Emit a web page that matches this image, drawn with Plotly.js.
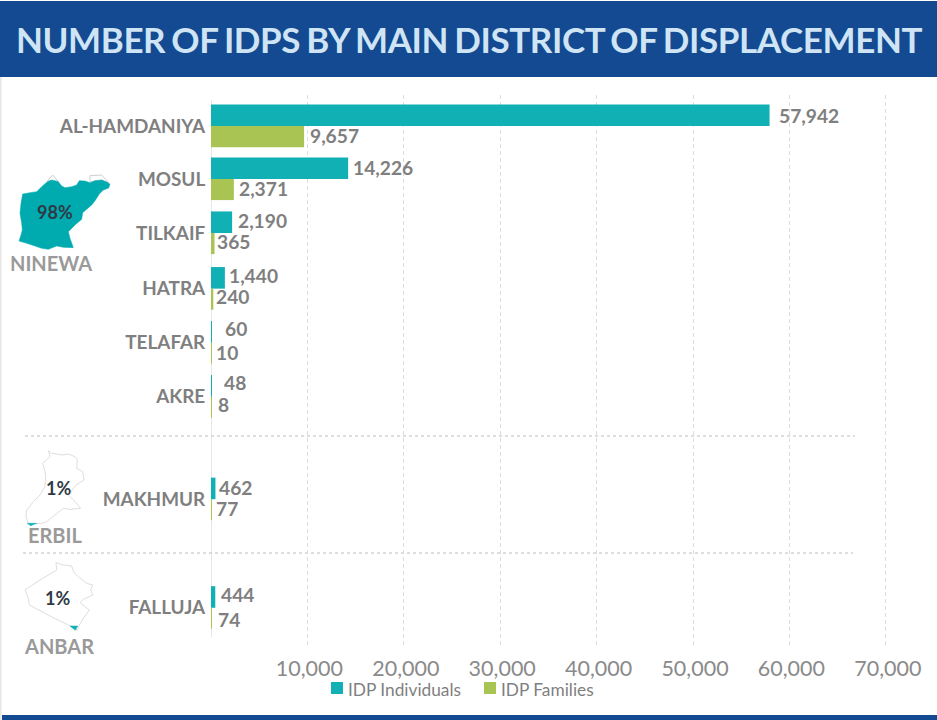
<!DOCTYPE html>
<html>
<head>
<meta charset="utf-8">
<script src="https://cdn.plot.ly/plotly-3.0.1.min.js"></script>
<style>html,body{margin:0;padding:0;background:#fff}#chart{width:937px;height:720px}</style>
</head>
<body>
<div id="chart"></div>
<script>
const districts = ["AL-HAMDANIYA","MOSUL","TILKAIF","HATRA","TELAFAR","AKRE","MAKHMUR","FALLUJA"];
const rowPositions = [0.02,1,2,3.03,4.03,5.03,6.93,8.94];
const individuals = [57942,14226,2190,1440,60,48,462,444];
const families = [9657,2371,365,240,10,8,77,74];
const tickValues = [10000,20000,30000,40000,50000,60000,70000];
const regions = [["NINEWA","98%"],["ERBIL","1%"],["ANBAR","1%"]];
const seriesNames = ["IDP Individuals","IDP Families"];
const seriesColors = ["#11b0b4","#a9c453"];
const labelShiftX1 = [9,5,6,4,13,13,3.5,6];
const labelShiftX2 = [6,5,2,3,5,7,4,6];
const labelShiftY1 = [0,-1,-2,-2,-3,-3,-1,-2];
const labelShiftY2 = [-1,-1,-2,-3,-1,-3,-2,1];

const W=937,H=720;
const px=x=>x/W, py=y=>1-y/H;
const fmt=v=>v.toLocaleString("en-US");
const path=(pts,ox,oy,s)=>"M"+pts.map(p=>px(ox+p[0]/s)+","+py(oy+p[1]/s)).join("L")+"Z";

const ninewa=[[27,213],[33,195],[37,180],[35,160],[30,130],[33,100],[38,72],[60,68],[80,65],[95,50],[112,35],[125,30],[135,32],[145,35],[155,48],[165,53],[185,50],[200,45],[208,32],[225,33],[240,38],[255,32],[275,30],[290,36],[300,43],[296,54],[280,60],[268,72],[255,92],[245,105],[225,122],[218,128],[215,148],[195,165],[175,185],[180,205],[190,233],[160,232],[140,228],[115,238],[95,235],[75,228],[50,220]];
const ninewaGrey1=[[112,33],[128,15],[146,36]];
const ninewaGrey2=[[240,36],[240,17],[275,15],[298,40],[275,30]];
const erbil=[[145,62],[155,70],[170,72],[185,75],[205,72],[225,80],[232,90],[230,115],[248,125],[252,150],[228,165],[205,195],[225,215],[242,235],[210,238],[190,235],[165,255],[140,275],[125,280],[85,282],[78,260],[80,240],[100,215],[120,195],[135,170],[137,140],[135,125],[128,100],[150,80]];
const erbilTeal=[[82,280],[110,280],[92,287]];
const anbar=[[168,398],[190,405],[215,408],[222,428],[235,440],[260,460],[278,465],[272,480],[278,495],[250,508],[240,518],[268,540],[250,565],[238,585],[232,600],[215,590],[150,558],[88,525],[85,505],[75,480],[120,450],[170,420]];
const anbarTeal=[[210,588],[233,588],[226,601]];

function region(d,fill,line,w){return {type:"path",xref:"paper",yref:"paper",path:d,fillcolor:fill,line:{color:line,width:w},layer:"above"};}
function rect(x0,y0,x1,y1,c){return {type:"rect",xref:"paper",yref:"paper",x0:px(x0),x1:px(x1),y0:py(y0),y1:py(y1),fillcolor:c,line:{width:0},layer:"below"};}
function dash(x0,x1,y){return {type:"line",xref:"paper",yref:"paper",x0:px(x0),x1:px(x1),y0:py(y),y1:py(y),line:{color:"#bdbdbd",width:1.2,dash:"3px,3px"},layer:"below"};}
function note(t,x,y,size,color,bold,anchor){return {text:bold?"<b>"+t+"</b>":t,xref:"paper",yref:"paper",x:px(x),y:py(y),xanchor:anchor||"center",yanchor:"middle",showarrow:false,font:{family:"Lato",size:size,color:color}};}
function valueLabel(v,row,dx,dy){return {text:"<b>"+fmt(v)+"</b>",xref:"x",yref:"y",x:v,y:row,xanchor:"left",yanchor:"middle",xshift:dx,yshift:-dy,showarrow:false,borderpad:0,borderwidth:0,font:{family:"Lato",size:19.2,color:"#7f7f7f"}};}

const traces=[
 {type:"bar",orientation:"h",name:seriesNames[0],y:rowPositions,x:individuals,width:0.4,offset:-0.4,
  marker:{color:seriesColors[0]},hoverinfo:"x+name"},
 {type:"bar",orientation:"h",name:seriesNames[1],y:rowPositions,x:families,width:0.39,offset:0,
  marker:{color:seriesColors[1]},hoverinfo:"x+name"}
];

const valueLabels=[
 ...individuals.map((v,i)=>valueLabel(v,rowPositions[i]-0.2,labelShiftX1[i],labelShiftY1[i])),
 ...families.map((v,i)=>valueLabel(v,rowPositions[i]+0.2,labelShiftX2[i],labelShiftY2[i]))
];

const layout={
 width:W,height:H,margin:{l:0,r:0,t:0,b:0,pad:0},paper_bgcolor:"#fff",plot_bgcolor:"rgba(0,0,0,0)",
 barmode:"overlay",showlegend:false,
 title:{text:"<b>NUMBER OF IDPS BY MAIN DISTRICT OF DISPLACEMENT</b>",x:469/W,xanchor:"center",xref:"paper",y:py(41),yref:"paper",yanchor:"middle",font:{family:"Lato",size:35,color:"#cfe4f4"},pad:{t:0,b:0,l:0,r:0}},
 xaxis:{domain:[px(211),px(900)],range:[0,(900-211)/0.00964],tickvals:tickValues,ticktext:tickValues.map(fmt),ticklabelshift:2,
  tickfont:{family:"Lato",size:21.5,color:"#8a8a8a"},showgrid:true,gridcolor:"#dcdcdc",griddash:"4px,3px",gridwidth:1,zeroline:false,ticks:"outside",ticklen:3,tickcolor:"rgba(0,0,0,0)",anchor:"y",showline:false},
 yaxis:{domain:[py(646),py(95)],range:[9.648,-0.556],tickvals:rowPositions,ticktext:districts,tickfont:{family:"Lato",size:18.9,color:"#7f7f7f",weight:700},showgrid:false,zeroline:false,ticks:"outside",ticklen:1,tickcolor:"rgba(0,0,0,0)",showline:false,anchor:"x"},
 shapes:[
  rect(0,1,W,77,"#134a91"),
  rect(2,715,W,720,"#134a91"),
  rect(0,77,1.5,720,"#e6e6e6"),
  {type:"line",xref:"x",yref:"paper",x0:0,x1:0,y0:py(100),y1:py(637),line:{color:"#cfcfcf",width:1},layer:"below"},
  dash(25,855,436),dash(23,853,553),
  rect(331,682,343,694,seriesColors[0]),
  rect(484,682,496,694,seriesColors[1]),
  region(path(ninewaGrey1,10,170,3),"#fff","#cfcfcf",1),
  region(path(ninewaGrey2,10,170,3),"#fff","#cfcfcf",1),
  region(path(ninewa,10,170,3),"#00abb0","#00abb0",0.5),
  region(path(erbil,0,430,3),"#fff","#dedede",1),
  region(path(erbilTeal,0,430,3),"#11b0b4","#11b0b4",0.5),
  region(path(anbar,0,430,3),"#fff","#dedede",1),
  region(path(anbarTeal,0,430,3),"#11b0b4","#11b0b4",0.5)
 ],
 annotations:[
  ...valueLabels,
  note(regions[0][1],55,212,18,"#2f3a45",true),
  note(regions[0][0],51,263,20,"#9a9a9a",true),
  note(regions[1][1],58,488,18,"#2f3a45",true),
  note(regions[1][0],55,535,20,"#9a9a9a",true),
  note(regions[2][1],57,598,18,"#2f3a45",true),
  note(regions[2][0],59,646,20,"#9a9a9a",true),
  note(seriesNames[0],346,689.5,17.3,"#7f7f7f",false,"left"),
  note(seriesNames[1],499,689.5,17.3,"#7f7f7f",false,"left")
 ]
};
Plotly.newPlot("chart",traces,layout,{displayModeBar:false,responsive:false}).then(()=>{
 const t=document.querySelector("#chart .gtitle");
 if(t){t.style.letterSpacing="-0.4px";t.style.wordSpacing="-2px";}
});
</script>
</body>
</html>
